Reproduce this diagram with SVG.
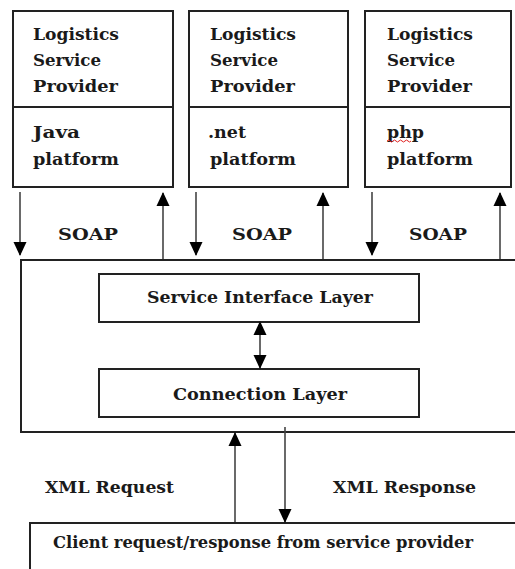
<svg xmlns="http://www.w3.org/2000/svg" width="515" height="569" viewBox="0 0 515 569">
<defs>
<style>
.box{fill:#fff;stroke:#222;stroke-width:2}
.ln{fill:none;stroke:#444;stroke-width:1.6}
text{font-family:"DejaVu Serif","Liberation Serif",serif;font-weight:bold;font-size:17.5px;fill:#1a1a1a}
</style>
<marker id="ah" markerUnits="userSpaceOnUse" markerWidth="14" markerHeight="14" viewBox="0 0 14 14" refX="13" refY="7" orient="auto">
<path d="M0,0.5 L14,7 L0,13.5 Z" fill="#000"/>
</marker>
</defs>
<rect width="515" height="569" fill="#fff"/>
<g id="lsp-java">
<rect class="box" x="13" y="11" width="160" height="176"/>
<line x1="13" y1="107" x2="173" y2="107" stroke="#222" stroke-width="2"/>
<text x="33" y="40" textLength="86" lengthAdjust="spacingAndGlyphs">Logistics</text>
<text x="33" y="66" textLength="68" lengthAdjust="spacingAndGlyphs">Service</text>
<text x="33" y="92" textLength="85" lengthAdjust="spacingAndGlyphs">Provider</text>
<text x="33" y="138" textLength="47" lengthAdjust="spacingAndGlyphs">Java</text>
<text x="33" y="165" textLength="86" lengthAdjust="spacingAndGlyphs">platform</text>
</g>
<g id="lsp-net">
<rect class="box" x="189" y="11" width="159" height="176"/>
<line x1="189" y1="107" x2="348" y2="107" stroke="#222" stroke-width="2"/>
<text x="210" y="40" textLength="86" lengthAdjust="spacingAndGlyphs">Logistics</text>
<text x="210" y="66" textLength="68" lengthAdjust="spacingAndGlyphs">Service</text>
<text x="210" y="92" textLength="85" lengthAdjust="spacingAndGlyphs">Provider</text>
<text x="208" y="138" textLength="38" lengthAdjust="spacingAndGlyphs">.net</text>
<text x="210" y="165" textLength="86" lengthAdjust="spacingAndGlyphs">platform</text>
</g>
<g id="lsp-php">
<rect class="box" x="365" y="11" width="146" height="176"/>
<line x1="365" y1="107" x2="511" y2="107" stroke="#222" stroke-width="2"/>
<text x="387" y="40" textLength="86" lengthAdjust="spacingAndGlyphs">Logistics</text>
<text x="387" y="66" textLength="68" lengthAdjust="spacingAndGlyphs">Service</text>
<text x="387" y="92" textLength="85" lengthAdjust="spacingAndGlyphs">Provider</text>
<text x="387" y="138" textLength="37" lengthAdjust="spacingAndGlyphs">php</text>
<path d="M387,141 q1.5,-2 3,0 t3,0 t3,0 t3,0 t3,0 t3,0 t3,0 t3,0" fill="none" stroke="#e02020" stroke-width="1"/>
<text x="387" y="165" textLength="86" lengthAdjust="spacingAndGlyphs">platform</text>
</g>
<g id="middleware">
<rect class="box" x="21" y="260" width="500" height="172"/>
</g>
<g id="service-interface-layer">
<rect class="box" x="99" y="274" width="320" height="48"/>
<text x="147" y="303" textLength="226" lengthAdjust="spacingAndGlyphs">Service Interface Layer</text>
</g>
<g id="connection-layer">
<rect class="box" x="99" y="369" width="320" height="48"/>
<text x="173" y="400" textLength="174" lengthAdjust="spacingAndGlyphs">Connection Layer</text>
</g>
<g id="client">
<rect class="box" x="30" y="523" width="495" height="60"/>
<text x="53" y="548" textLength="420" lengthAdjust="spacingAndGlyphs">Client request/response from service provider</text>
</g>
<g id="connectors">
<line class="ln" x1="20" y1="192" x2="20" y2="255" marker-end="url(#ah)"/>
<line class="ln" x1="163" y1="259" x2="163" y2="193" marker-end="url(#ah)"/>
<line class="ln" x1="196" y1="192" x2="196" y2="255" marker-end="url(#ah)"/>
<line class="ln" x1="323" y1="259" x2="323" y2="193" marker-end="url(#ah)"/>
<line class="ln" x1="372" y1="192" x2="372" y2="255" marker-end="url(#ah)"/>
<line class="ln" x1="500" y1="259" x2="500" y2="193" marker-end="url(#ah)"/>
<line class="ln" x1="260" y1="335" x2="260" y2="322" marker-end="url(#ah)"/>
<line class="ln" x1="260" y1="335" x2="260" y2="368" marker-end="url(#ah)"/>
<line class="ln" x1="235" y1="522" x2="235" y2="433" marker-end="url(#ah)"/>
<line class="ln" x1="285" y1="427" x2="285" y2="522" marker-end="url(#ah)"/>
<text x="58" y="240" textLength="60" lengthAdjust="spacingAndGlyphs">SOAP</text>
<text x="232" y="240" textLength="60" lengthAdjust="spacingAndGlyphs">SOAP</text>
<text x="409" y="240" textLength="58" lengthAdjust="spacingAndGlyphs">SOAP</text>
<text x="45" y="493" textLength="129" lengthAdjust="spacingAndGlyphs">XML Request</text>
<text x="333" y="493" textLength="143" lengthAdjust="spacingAndGlyphs">XML Response</text>
</g>
</svg>
